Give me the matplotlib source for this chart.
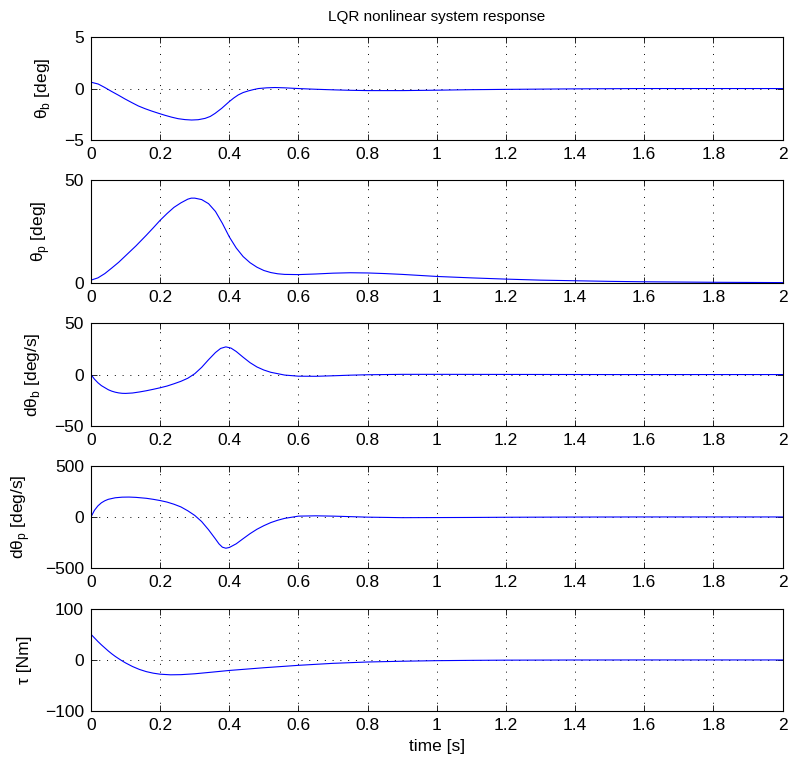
import numpy as np
import matplotlib
matplotlib.use("Agg")
import matplotlib.pyplot as plt

plt.rcParams['font.family'] = ['Liberation Sans', 'DejaVu Sans']
plt.rcParams['mathtext.fontset'] = 'custom'
plt.rcParams['mathtext.rm'] = 'Liberation Sans'

# values
t_theta_b = [0, 0.021, 0.04, 0.06, 0.08, 0.098, 0.118, 0.137, 0.156, 0.175, 0.195, 0.214,
             0.233, 0.252, 0.272, 0.291, 0.31, 0.33, 0.345, 0.359, 0.378, 0.40, 0.413,
             0.426, 0.44, 0.455, 0.47, 0.484, 0.508, 0.532, 0.56, 0.60, 0.65, 0.705, 0.75,
             0.80, 0.90, 1.0, 1.1, 1.2, 1.4, 1.6, 1.8, 2.0]
theta_b = [0.62, 0.44, 0.1, -0.29, -0.66, -1.01, -1.37, -1.70, -1.96, -2.19, -2.41, -2.61,
           -2.79, -2.94, -3.03, -3.07, -3.04, -2.91, -2.72, -2.42, -1.93, -1.27, -0.92,
           -0.62, -0.39, -0.23, -0.1, 0.0, 0.07, 0.1, 0.07, 0.0, -0.07, -0.13, -0.17,
           -0.2, -0.2, -0.16, -0.11, -0.08, -0.03, 0.0, 0.0, 0.0]

t_theta_p = [0, 0.02, 0.04, 0.06, 0.08, 0.10, 0.13, 0.16, 0.18, 0.20, 0.22, 0.24, 0.26,
             0.28, 0.29, 0.30, 0.32, 0.34, 0.36, 0.38, 0.40, 0.42, 0.44, 0.46, 0.48, 0.50,
             0.52, 0.54, 0.56, 0.60, 0.65, 0.70, 0.75, 0.80, 0.85, 0.90, 1.0, 1.1, 1.2,
             1.3, 1.4, 1.5, 1.6, 1.8, 2.0]
theta_p = [1.3, 2.4, 4.5, 7.2, 10.0, 13.2, 18.0, 23.2, 26.8, 30.5, 33.8, 36.8, 39.0,
           40.8, 41.3, 41.3, 40.6, 38.6, 34.8, 29.0, 22.4, 17.0, 12.8, 9.8, 7.6, 6.0,
           5.0, 4.4, 4.1, 4.0, 4.3, 4.7, 4.9, 4.8, 4.5, 4.1, 3.1, 2.4, 1.8,
           1.3, 1.0, 0.7, 0.5, 0.25, 0.1]

t_dtheta_b = [0, 0.01, 0.02, 0.03, 0.04, 0.05, 0.06, 0.07, 0.08, 0.09, 0.10, 0.12, 0.14,
              0.16, 0.18, 0.20, 0.22, 0.24, 0.26, 0.28, 0.30, 0.32, 0.34, 0.36, 0.375,
              0.39, 0.405, 0.42, 0.44, 0.46, 0.48, 0.50, 0.52, 0.56, 0.60, 0.65, 0.70,
              0.75, 0.80, 0.90, 1.0, 1.5, 2.0]
dtheta_b = [0, -4.5, -8.0, -10.8, -12.8, -14.8, -16.2, -17.2, -17.9, -18.3, -18.4, -18.0, -17.0,
            -15.8, -14.4, -12.9, -11.2, -9.0, -6.6, -3.6, 0.8, 7.0, 14.5, 21.5, 25.5,
            27.0, 25.8, 22.5, 16.9, 11.6, 7.4, 4.4, 2.2, -0.5, -1.6, -1.7, -1.2,
            -0.6, -0.2, 0.2, 0.2, 0.0, 0.0]

t_dtheta_p = [0, 0.01, 0.02, 0.03, 0.04, 0.05, 0.07, 0.09, 0.11, 0.13, 0.16, 0.18, 0.20,
              0.22, 0.24, 0.26, 0.28, 0.30, 0.32, 0.34, 0.36, 0.37, 0.38, 0.39, 0.40,
              0.42, 0.44, 0.46, 0.48, 0.50, 0.52, 0.54, 0.56, 0.60, 0.65, 0.70, 0.80,
              0.90, 1.0, 1.1, 1.2, 1.4, 1.6, 2.0]
dtheta_p = [0, 65, 108, 138, 158, 172, 187, 193, 194, 191, 182, 172, 160,
            145, 124, 98, 60, 15, -45, -125, -215, -262, -295, -305, -298,
            -262, -212, -163, -120, -85, -55, -32, -14, 8, 11, 8, -2,
            -7, -6, -5, -3, -1, 0, 0]

t_tau = [0, 0.01, 0.02, 0.03, 0.04, 0.05, 0.06, 0.07, 0.08, 0.09, 0.10, 0.12, 0.14,
         0.16, 0.18, 0.20, 0.23, 0.26, 0.30, 0.35, 0.40, 0.50, 0.60, 0.70, 0.80,
         0.90, 1.0, 1.1, 1.2, 1.4, 1.6, 2.0]
tau = [50, 43, 36, 29.5, 23.5, 17.5, 12, 7, 2.5, -1.8, -5.8, -12.8, -18.5,
       -22.8, -25.8, -27.8, -29.0, -28.7, -27.0, -23.8, -20.5, -15.2, -10.5, -6.6, -4.0,
       -2.5, -1.4, -0.8, -0.4, -0.1, 0.0, 0.0]

series = [
    (t_theta_b, theta_b, r'θ$_\mathrm{b}$ [deg]', [-5, 0, 5]),
    (t_theta_p, theta_p, r'θ$_\mathrm{p}$ [deg]', [0, 50]),
    (t_dtheta_b, dtheta_b, r'dθ$_\mathrm{b}$ [deg/s]', [-50, 0, 50]),
    (t_dtheta_p, dtheta_p, r'dθ$_\mathrm{p}$ [deg/s]', [-500, 0, 500]),
    (t_tau, tau, 'τ [Nm]', [-100, 0, 100]),
]
x_ticks = [0, 0.2, 0.4, 0.6, 0.8, 1, 1.2, 1.4, 1.6, 1.8, 2]
x_ticklabels = ['0', '0.2', '0.4', '0.6', '0.8', '1', '1.2', '1.4', '1.6', '1.8', '2']

W, H = 791, 762
fig = plt.figure(figsize=(W / 100, H / 100), dpi=100)

left, width, height = 91, 691.5, 102.5
tops = [37.3, 180.3, 323.3, 465.7, 608.7]

for (t, y, label, yticks), top in zip(series, tops):
    ax = fig.add_axes([left / W, 1 - (top + height) / H, width / W, height / H])
    ax.plot(t, y, color='#0000ff', lw=0.8)
    ax.set_xlim(0, 2)
    ax.set_ylim(yticks[0], yticks[-1])
    ax.set_xticks(x_ticks)
    ax.set_xticklabels(x_ticklabels)
    ax.set_yticks(yticks)
    ax.set_yticklabels([str(v).replace('-', '\u2212') for v in yticks])
    ax.tick_params(direction='in', top=True, right=True, length=4, width=0.6,
                   labelsize=12.5, pad=5)
    ax.grid(True, color='black', linestyle=(0, (1, 7)), linewidth=0.7)
    for s in ax.spines.values():
        s.set_linewidth(0.8)
    ax.set_ylabel(label, fontsize=12.5, labelpad=9)
    if top == tops[0]:
        ax.set_title('LQR nonlinear system response', fontsize=11, pad=12)
    if top == tops[-1]:
        ax.set_xlabel('time [s]', fontsize=12.5, labelpad=4)

fig.savefig('out.png', dpi=100)
